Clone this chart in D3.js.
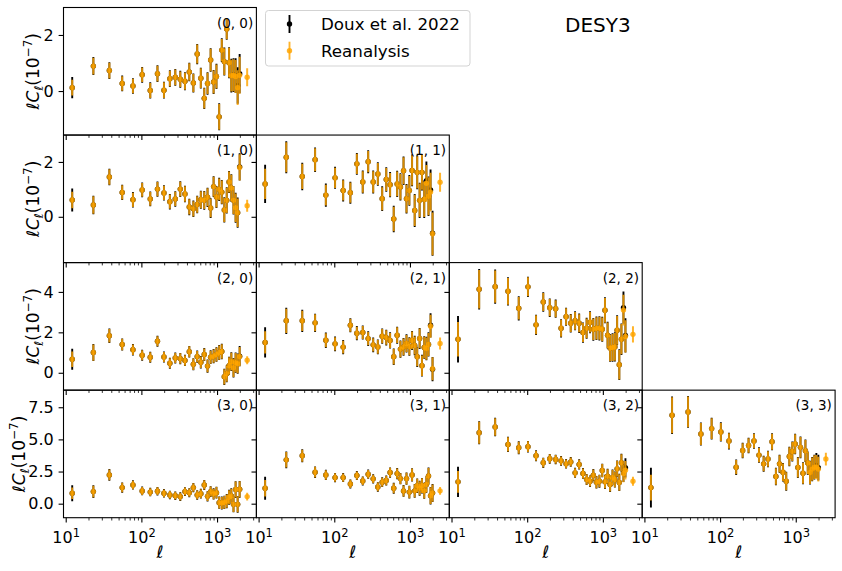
<!DOCTYPE html>
<html><head><meta charset="utf-8">
<script src="https://cdn.jsdelivr.net/npm/d3@7"></script>
<style>body{margin:0;background:#fff} text{font-family:"DejaVu Sans",sans-serif;fill:#000}</style>
</head><body><svg id="c" width="842" height="571" xmlns="http://www.w3.org/2000/svg"></svg>
<script>
// ---------------- data ----------------
const ellDoux = [12.19, 23.2, 37.74, 55.78, 77.35, 102.42, 131.02, 163.13, 198.75, 237.89, 280.55, 326.72, 376.41, 429.61, 486.33, 546.57, 610.32, 677.59, 748.37, 822.66, 900.48, 981.81, 1066.65, 1155.01, 1246.89, 1342.28, 1441.19, 1543.61, 1649.55, 1759.01, 1871.97, 1988.46];
const ellReanalysis = [12.19, 23.2, 37.74, 55.78, 77.35, 102.42, 131.02, 163.13, 198.75, 237.89, 280.55, 326.72, 376.41, 429.61, 486.33, 546.57, 610.32, 677.59, 748.37, 822.66, 900.48, 981.81, 1066.65, 1155.01, 1246.89, 1342.28, 1441.19, 1543.61, 1649.55, 1759.01, 1871.97, 1988.46, 2500];
const panelPairs = [[0,0],[1,0],[1,1],[2,0],[2,1],[2,2],[3,0],[3,1],[3,2],[3,3]];
const seriesNames = ["Doux et al. 2022", "Reanalysis"];
const figureTitle = "DESY3";

const douxValues = [
 [0.12, 0.89, 0.73, 0.27, 0.18, 0.58, 0.02, 0.62, 0.03, 0.44, 0.49, 0.42, 0.35, 0.68, 0.29, 1.32, 0.46, -0.26, 0.27, 1.11, 0.32, 0.52, -0.92, 1.46, 1.05, 2.21, 1.01, 0.55, 0.57, 0.55, 0.2, 0.62],
 [0.61, 0.43, 1.45, 0.89, 0.62, 0.98, 0.65, 1.01, 0.87, 0.55, 0.65, 1.01, 0.83, 0.36, 0.29, 0.45, 0.62, 0.6, 0.71, 0.32, 1.1, 0.72, 1.0, 0.9, 0.25, 0.6, 1.27, 1.05, 0.6, 0.33, 0.15, 1.82],
 [1.2, 2.17, 1.47, 2.08, 0.79, 1.42, 0.96, 0.88, 1.93, 1.27, 2.01, 1.27, 1.56, 0.66, 1.36, 1.17, -0.08, 1.2, 1.09, 1.68, 0.66, 0.96, 1.69, 0.23, 1.62, 0.6, 1.62, 0.64, 1.32, 0.75, 0.98, -0.6],
 [0.67, 1.0, 1.83, 1.4, 1.14, 0.87, 0.77, 1.56, 0.78, 0.47, 0.73, 0.7, 0.61, 1.04, 0.42, 0.8, 0.52, 0.9, 0.33, 0.77, 0.82, 0.9, 1.0, 1.05, -0.2, -0.05, 0.35, 0.55, 0.25, 0.5, 0.45, 0.82],
 [1.5, 2.57, 2.57, 2.47, 1.61, 1.43, 1.27, 2.35, 1.96, 1.99, 1.69, 1.38, 1.28, 1.81, 1.74, 1.6, 0.79, 1.86, 1.17, 1.28, 1.45, 1.3, 1.6, 1.35, 0.79, 1.7, 0.35, 1.25, 1.2, 1.4, 2.35, 0.18],
 [1.66, 4.13, 4.26, 4.03, 3.19, 4.25, 2.37, 3.5, 3.22, 3.17, 2.2, 2.77, 2.45, 2.57, 2.45, 1.99, 2.2, 2.5, 2.15, 2.2, 2.2, 2.15, 3.09, 1.86, 1.22, 1.25, 1.28, 2.1, 0.4, 1.66, 3.22, 1.85],
 [0.81, 0.94, 2.24, 1.25, 1.46, 0.99, 0.9, 0.97, 0.81, 0.68, 0.62, 0.55, 0.94, 0.86, 1.25, 0.68, 0.78, 1.46, 0.57, 0.94, 0.76, 0.86, 0.08, 0.05, 0.1, 0.2, 0.5, 0.6, -0.05, 1.1, -0.05, 1.12],
 [1.2, 3.41, 3.73, 2.45, 2.24, 2.03, 2.03, 1.54, 2.19, 1.77, 2.29, 1.93, 1.3, 1.67, 1.8, 2.42, 1.2, 2.34, 1.95, 0.99, 1.95, 0.9, 2.24, 1.0, 1.4, 1.2, 1.4, 1.0, 1.5, 2.15, 0.62, 0.83],
 [1.7, 5.52, 5.97, 4.61, 4.35, 4.43, 3.73, 3.18, 3.49, 3.44, 3.33, 3.1, 3.25, 2.4, 3.05, 2.35, 1.88, 1.75, 2.22, 1.67, 1.75, 2.58, 1.7, 2.14, 1.5, 2.04, 1.88, 2.71, 1.65, 3.18, 2.4, 2.79],
 [1.25, 6.88, 7.14, 5.42, 5.84, 5.58, 4.87, 2.84, 4.14, 4.53, 4.87, 3.78, 3.1, 3.47, 4.82, 2.11, 3.1, 2.45, 1.75, 3.67, 4.06, 4.64, 2.81, 4.38, 2.37, 4.12, 3.16, 2.42, 2.69, 2.84, 2.97, 2.8]
];
const douxErrors = [
 [0.38, 0.32, 0.3, 0.28, 0.28, 0.28, 0.29, 0.3, 0.3, 0.3, 0.3, 0.3, 0.32, 0.33, 0.34, 0.36, 0.37, 0.38, 0.4, 0.42, 0.43, 0.45, 0.48, 0.42, 0.5, 0.38, 0.55, 0.6, 0.6, 0.62, 0.65, 0.7],
 [0.42, 0.34, 0.3, 0.28, 0.28, 0.27, 0.27, 0.28, 0.28, 0.28, 0.28, 0.29, 0.3, 0.3, 0.3, 0.32, 0.33, 0.34, 0.35, 0.36, 0.38, 0.4, 0.42, 0.44, 0.46, 0.48, 0.4, 0.5, 0.52, 0.55, 0.55, 0.5],
 [0.7, 0.58, 0.5, 0.45, 0.42, 0.4, 0.4, 0.4, 0.4, 0.42, 0.42, 0.42, 0.43, 0.45, 0.45, 0.46, 0.48, 0.48, 0.5, 0.52, 0.54, 0.56, 0.58, 0.6, 0.62, 0.64, 0.66, 0.68, 0.7, 0.72, 0.74, 0.82],
 [0.52, 0.42, 0.36, 0.3, 0.28, 0.27, 0.27, 0.27, 0.27, 0.27, 0.27, 0.28, 0.28, 0.29, 0.3, 0.3, 0.31, 0.32, 0.33, 0.34, 0.35, 0.36, 0.37, 0.38, 0.4, 0.42, 0.44, 0.46, 0.48, 0.5, 0.5, 0.5],
 [0.75, 0.65, 0.55, 0.45, 0.38, 0.36, 0.35, 0.35, 0.35, 0.35, 0.36, 0.36, 0.37, 0.38, 0.39, 0.4, 0.41, 0.42, 0.43, 0.44, 0.45, 0.46, 0.47, 0.48, 0.5, 0.52, 0.54, 0.56, 0.58, 0.6, 0.6, 0.6],
 [1.15, 1.0, 0.85, 0.7, 0.6, 0.5, 0.5, 0.48, 0.46, 0.45, 0.45, 0.45, 0.46, 0.47, 0.48, 0.5, 0.52, 0.54, 0.56, 0.58, 0.6, 0.62, 0.64, 0.66, 0.68, 0.7, 0.72, 0.74, 0.76, 0.78, 0.8, 0.85],
 [0.63, 0.5, 0.45, 0.4, 0.36, 0.34, 0.33, 0.33, 0.33, 0.33, 0.33, 0.34, 0.34, 0.35, 0.36, 0.37, 0.38, 0.39, 0.4, 0.42, 0.44, 0.46, 0.48, 0.5, 0.52, 0.55, 0.58, 0.6, 0.62, 0.65, 0.65, 0.65],
 [0.9, 0.65, 0.5, 0.45, 0.4, 0.36, 0.35, 0.35, 0.35, 0.35, 0.36, 0.36, 0.37, 0.38, 0.39, 0.4, 0.42, 0.43, 0.44, 0.46, 0.48, 0.5, 0.52, 0.54, 0.56, 0.58, 0.6, 0.62, 0.64, 0.66, 0.68, 0.7],
 [1.18, 0.9, 0.72, 0.6, 0.5, 0.45, 0.42, 0.4, 0.38, 0.37, 0.37, 0.37, 0.38, 0.39, 0.4, 0.42, 0.43, 0.45, 0.47, 0.49, 0.51, 0.53, 0.55, 0.57, 0.59, 0.61, 0.63, 0.65, 0.67, 0.7, 0.72, 0.75],
 [1.54, 1.46, 1.24, 0.9, 0.85, 0.75, 0.65, 0.6, 0.6, 0.6, 0.6, 0.6, 0.62, 0.64, 0.66, 0.68, 0.7, 0.72, 0.74, 0.76, 0.78, 0.8, 0.82, 0.84, 0.86, 0.88, 0.9, 0.92, 0.94, 0.96, 0.98, 1.0]
];
const reanalysisValues = [
 [0.12, 0.89, 0.73, 0.27, 0.18, 0.58, 0.02, 0.62, 0.03, 0.44, 0.49, 0.42, 0.35, 0.68, 0.29, 1.32, 0.46, -0.26, 0.27, 1.11, 0.32, 0.52, -0.92, 1.46, 1.05, 2.21, 1.01, 0.55, 0.56, 0.52, 0.12, 0.56, 0.49],
 [0.61, 0.43, 1.45, 0.89, 0.62, 0.98, 0.65, 1.01, 0.87, 0.55, 0.65, 1.01, 0.83, 0.36, 0.29, 0.45, 0.62, 0.6, 0.71, 0.32, 1.1, 0.72, 1.0, 0.9, 0.25, 0.6, 1.27, 1.05, 0.6, 0.33, 0.15, 1.8, 0.4],
 [1.2, 2.17, 1.47, 2.08, 0.79, 1.42, 0.96, 0.88, 1.93, 1.27, 2.01, 1.27, 1.56, 0.66, 1.36, 1.17, -0.08, 1.2, 1.09, 1.68, 0.66, 0.96, 1.69, 0.23, 1.62, 0.6, 1.62, 0.64, 1.22, 0.75, 0.9, -0.62, 1.26],
 [0.67, 1.0, 1.83, 1.4, 1.14, 0.87, 0.77, 1.56, 0.78, 0.47, 0.73, 0.7, 0.61, 1.04, 0.42, 0.8, 0.52, 0.9, 0.33, 0.77, 0.82, 0.9, 1.0, 1.05, -0.2, -0.05, 0.35, 0.55, 0.25, 0.5, 0.45, 0.8, 0.62],
 [1.5, 2.57, 2.57, 2.47, 1.61, 1.43, 1.27, 2.35, 1.96, 1.99, 1.69, 1.38, 1.28, 1.81, 1.74, 1.6, 0.79, 1.86, 1.17, 1.28, 1.45, 1.3, 1.6, 1.35, 0.79, 1.7, 0.35, 1.25, 1.2, 1.4, 2.3, 0.2, 1.45],
 [1.66, 4.13, 4.26, 4.03, 3.19, 4.25, 2.37, 3.5, 3.22, 3.17, 2.2, 2.77, 2.45, 2.57, 2.45, 1.99, 2.2, 2.5, 2.15, 2.2, 2.2, 2.15, 3.09, 1.86, 1.22, 1.25, 1.28, 2.1, 0.4, 1.66, 3.1, 1.8, 1.9],
 [0.81, 0.94, 2.24, 1.25, 1.46, 0.99, 0.9, 0.97, 0.81, 0.68, 0.62, 0.55, 0.94, 0.86, 1.25, 0.68, 0.78, 1.46, 0.57, 0.94, 0.76, 0.86, 0.08, 0.05, 0.1, 0.2, 0.5, 0.6, -0.05, 1.1, -0.05, 1.12, 0.55],
 [1.2, 3.41, 3.73, 2.45, 2.24, 2.03, 2.03, 1.54, 2.19, 1.77, 2.29, 1.93, 1.3, 1.67, 1.8, 2.42, 1.2, 2.34, 1.95, 0.99, 1.95, 0.9, 2.24, 1.0, 1.4, 1.2, 1.4, 1.0, 1.5, 2.15, 0.62, 0.83, 1.0],
 [1.7, 5.52, 5.97, 4.61, 4.35, 4.43, 3.73, 3.18, 3.49, 3.44, 3.33, 3.1, 3.25, 2.4, 3.05, 2.35, 1.88, 1.75, 2.22, 1.67, 1.75, 2.58, 1.7, 2.14, 1.5, 2.04, 1.88, 2.71, 1.65, 3.18, 2.35, 2.6, 1.75],
 [1.25, 6.88, 7.14, 5.42, 5.84, 5.58, 4.87, 2.84, 4.14, 4.53, 4.87, 3.78, 3.1, 3.47, 4.82, 2.11, 3.1, 2.45, 1.75, 3.67, 4.06, 4.64, 2.81, 4.38, 2.37, 4.12, 3.16, 2.42, 2.69, 2.84, 2.84, 2.69, 3.47]
];
const reanalysisErrors = [
 [0.28, 0.3, 0.28, 0.26, 0.26, 0.26, 0.27, 0.28, 0.28, 0.28, 0.28, 0.28, 0.3, 0.31, 0.32, 0.34, 0.35, 0.36, 0.38, 0.4, 0.41, 0.43, 0.46, 0.4, 0.48, 0.36, 0.53, 0.57, 0.57, 0.59, 0.62, 0.66, 0.32],
 [0.3, 0.32, 0.28, 0.26, 0.26, 0.25, 0.25, 0.26, 0.26, 0.26, 0.26, 0.27, 0.28, 0.28, 0.28, 0.3, 0.31, 0.32, 0.33, 0.34, 0.36, 0.38, 0.4, 0.42, 0.44, 0.46, 0.38, 0.48, 0.5, 0.52, 0.52, 0.48, 0.22],
 [0.55, 0.55, 0.46, 0.42, 0.38, 0.37, 0.37, 0.37, 0.37, 0.39, 0.39, 0.39, 0.4, 0.42, 0.42, 0.43, 0.45, 0.45, 0.47, 0.49, 0.51, 0.53, 0.55, 0.57, 0.59, 0.61, 0.63, 0.65, 0.67, 0.69, 0.71, 0.78, 0.35],
 [0.38, 0.4, 0.33, 0.28, 0.26, 0.25, 0.25, 0.25, 0.25, 0.25, 0.25, 0.26, 0.26, 0.27, 0.28, 0.28, 0.29, 0.3, 0.31, 0.32, 0.33, 0.34, 0.35, 0.36, 0.38, 0.4, 0.42, 0.44, 0.46, 0.48, 0.48, 0.48, 0.2],
 [0.55, 0.6, 0.5, 0.42, 0.35, 0.33, 0.32, 0.32, 0.32, 0.32, 0.33, 0.33, 0.34, 0.35, 0.36, 0.37, 0.38, 0.39, 0.4, 0.41, 0.42, 0.43, 0.44, 0.45, 0.47, 0.49, 0.51, 0.53, 0.55, 0.57, 0.57, 0.57, 0.3],
 [0.85, 0.95, 0.8, 0.66, 0.56, 0.47, 0.47, 0.45, 0.43, 0.42, 0.42, 0.42, 0.43, 0.44, 0.45, 0.47, 0.49, 0.51, 0.53, 0.55, 0.57, 0.59, 0.61, 0.63, 0.65, 0.67, 0.69, 0.71, 0.73, 0.75, 0.76, 0.8, 0.4],
 [0.45, 0.46, 0.42, 0.37, 0.33, 0.31, 0.3, 0.3, 0.3, 0.3, 0.3, 0.31, 0.31, 0.32, 0.33, 0.34, 0.35, 0.36, 0.37, 0.39, 0.41, 0.43, 0.45, 0.47, 0.49, 0.52, 0.55, 0.57, 0.59, 0.62, 0.62, 0.62, 0.3],
 [0.65, 0.6, 0.46, 0.42, 0.37, 0.33, 0.32, 0.32, 0.32, 0.32, 0.33, 0.33, 0.34, 0.35, 0.36, 0.37, 0.39, 0.4, 0.41, 0.43, 0.45, 0.47, 0.49, 0.51, 0.53, 0.55, 0.57, 0.59, 0.61, 0.63, 0.65, 0.67, 0.3],
 [0.85, 0.85, 0.68, 0.56, 0.46, 0.42, 0.39, 0.37, 0.35, 0.34, 0.34, 0.34, 0.35, 0.36, 0.37, 0.39, 0.4, 0.42, 0.44, 0.46, 0.48, 0.5, 0.52, 0.54, 0.56, 0.58, 0.6, 0.62, 0.64, 0.67, 0.69, 0.72, 0.35],
 [1.0, 1.4, 1.2, 0.86, 0.8, 0.7, 0.6, 0.56, 0.56, 0.56, 0.56, 0.56, 0.58, 0.6, 0.62, 0.64, 0.66, 0.68, 0.7, 0.72, 0.74, 0.76, 0.78, 0.8, 0.82, 0.84, 0.86, 0.88, 0.9, 0.92, 0.94, 0.96, 0.5]
];
const yTickValues = [[0, 2], [0, 2], [0, 2, 4], [0, 2.5, 5, 7.5]];
const yTickDigits = [0, 0, 0, 1];
const yLimits = [[-1.57, 2.98], [-1.67, 2.98], [-0.86, 5.45], [-1.09, 8.83]];
const xLimits = [9.35, 3311];
const xMajorTicks = [10, 100, 1000];
const xMinorTicks = [20,30,40,50,60,70,80,90,200,300,400,500,600,700,800,900,2000,3000];

// ---------------- layout ----------------
const LEFT = 63.5, TOP = 7.5, CW = 192.9, RH = 127.55;
const ORANGE = "orange", OALPHA = 0.83;
const svg = d3.select("#c");

panelPairs.forEach(([r, c], p) => {
  const x0 = LEFT + c * CW, y0 = TOP + r * RH;
  const x = d3.scaleLog().domain(xLimits).range([x0, x0 + CW]);
  const y = d3.scaleLinear().domain(yLimits[r]).range([y0 + RH, y0]);
  const g = svg.append("g");
  const clipId = "clip" + p;
  g.append("clipPath").attr("id", clipId).append("rect")
    .attr("x", x0).attr("y", y0).attr("width", CW).attr("height", RH);
  const data = g.append("g").attr("clip-path", `url(#${clipId})`);

  // Doux et al. 2022 (black)
  const dd = ellDoux.map((l, i) => ({l, v: douxValues[p][i], e: douxErrors[p][i]}));
  data.append("g").selectAll("line").data(dd).join("line")
    .attr("x1", d => x(d.l)).attr("x2", d => x(d.l))
    .attr("y1", d => y(d.v - d.e)).attr("y2", d => y(d.v + d.e))
    .attr("stroke", "#000").attr("stroke-width", 1.9);
  data.append("g").selectAll("circle").data(dd).join("circle")
    .attr("cx", d => x(d.l)).attr("cy", d => y(d.v)).attr("r", 2.7).attr("fill", "#000");

  // Reanalysis (orange, translucent)
  const rd = ellReanalysis.map((l, i) => ({l, v: reanalysisValues[p][i], e: reanalysisErrors[p][i]}));
  data.append("g").selectAll("line").data(rd).join("line")
    .attr("x1", d => x(d.l)).attr("x2", d => x(d.l))
    .attr("y1", d => y(d.v - d.e)).attr("y2", d => y(d.v + d.e))
    .attr("stroke", ORANGE).attr("stroke-opacity", OALPHA).attr("stroke-width", 2);
  data.append("g").selectAll("circle").data(rd).join("circle")
    .attr("cx", d => x(d.l)).attr("cy", d => y(d.v)).attr("r", 2.7)
    .attr("fill", ORANGE).attr("fill-opacity", OALPHA);

  // y axis
  const ya = g.append("g").attr("transform", `translate(${x0},0)`)
    .call(d3.axisLeft(y).tickValues(yTickValues[r]).tickSize(4.9).tickPadding(4.9)
      .tickFormat(c === 0 ? (d => d.toFixed(yTickDigits[r])) : (() => "")));
  ya.select(".domain").remove();
  ya.selectAll(".tick line").attr("stroke", "#000").attr("stroke-width", 1.1);
  ya.selectAll(".tick text").attr("font-size", 16).attr("font-family", "DejaVu Sans");

  // x axis: minor ticks (inside the axis range only)
  const minors = xMinorTicks.filter(v => v >= xLimits[0] && v <= xLimits[1]);
  const xm = g.append("g").attr("transform", `translate(0,${y0 + RH})`)
    .call(d3.axisBottom(x).tickValues(minors).tickSize(2.8).tickFormat(() => ""));
  xm.select(".domain").remove();
  xm.selectAll(".tick line").attr("stroke", "#000").attr("stroke-width", 0.8);
  // major ticks
  const xa = g.append("g").attr("transform", `translate(0,${y0 + RH})`)
    .call(d3.axisBottom(x).tickValues(xMajorTicks).tickSize(4.9).tickPadding(4.9).tickFormat(() => ""));
  xa.select(".domain").remove();
  xa.selectAll(".tick line").attr("stroke", "#000").attr("stroke-width", 1.1);
  if (r === 3) {
    xa.selectAll(".tick text").each(function(d) {
      const t = d3.select(this).attr("font-size", 16).attr("font-family", "DejaVu Sans")
        .attr("y", 10.5).attr("dy", "0.95em");
      t.append("tspan").text("10");
      t.append("tspan").attr("font-size", 11.5).attr("dy", -6.5).text(String(Math.round(Math.log10(d))));
    });
    // x label
    g.append("text").attr("x", x0 + CW / 2).attr("y", 558).attr("text-anchor", "middle")
      .attr("font-size", 17).attr("font-style", "italic").text("ℓ");
  }

  // spines
  g.append("rect").attr("x", x0).attr("y", y0).attr("width", CW).attr("height", RH)
    .attr("fill", "none").attr("stroke", "#000").attr("stroke-width", 1.1);

  // panel label
  g.append("text").attr("x", x0 + CW - 3.2).attr("y", y0 + 20).attr("text-anchor", "end")
    .attr("font-size", 13.5).text(`(${r}, ${c})`);

  // y label (placed left of the widest tick label of the row)
  if (c === 0) {
    const bx = r === 3 ? 25 : 39;
    const t = g.append("text").attr("transform", `translate(${bx},${y0 + RH / 2}) rotate(-90)`)
      .attr("text-anchor", "middle").attr("font-size", 17);
    t.append("tspan").attr("font-style", "italic").text("ℓC");
    t.append("tspan").attr("font-style", "italic").attr("font-size", 12).attr("dy", 3.5).text("ℓ");
    t.append("tspan").attr("dy", -3.5).text("(10");
    t.append("tspan").attr("font-size", 12).attr("dy", -7).text("−7");
    t.append("tspan").attr("dy", 7).text(")");
  }
});

// ---------------- legend ----------------
const lg = svg.append("g");
lg.append("rect").attr("x", 265.5).attr("y", 10.5).attr("width", 204.5).attr("height", 55.5)
  .attr("rx", 3).attr("fill", "#fff").attr("fill-opacity", 0.8).attr("stroke", "#d3d3d3").attr("stroke-width", 1);
const legendRows = [
  {name: seriesNames[0], color: "#000", op: 1, cy: 24},
  {name: seriesNames[1], color: ORANGE, op: OALPHA, cy: 50.7}
];
legendRows.forEach(d => {
  lg.append("line").attr("x1", 289.5).attr("x2", 289.5).attr("y1", d.cy - 9).attr("y2", d.cy + 9)
    .attr("stroke", d.color).attr("stroke-opacity", d.op).attr("stroke-width", 1.9);
  lg.append("circle").attr("cx", 289.5).attr("cy", d.cy).attr("r", 2.7).attr("fill", d.color).attr("fill-opacity", d.op);
  lg.append("text").attr("x", 321).attr("y", d.cy + 5.8).attr("font-size", 16.7).text(d.name);
});

// title
svg.append("text").attr("x", 565).attr("y", 31.5).attr("font-size", 20).text(figureTitle);
</script>
</body></html>
